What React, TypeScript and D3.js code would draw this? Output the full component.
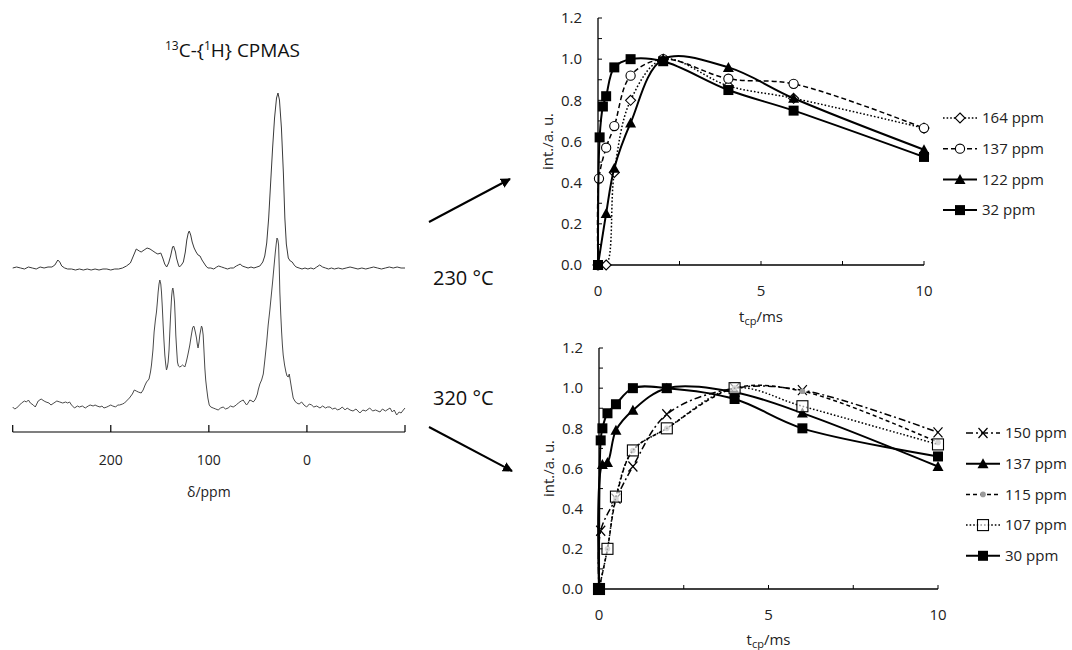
import React from 'react';
import * as d3 from 'd3';

// ---------------- DATA ----------------
// 13C CPMAS spectra, [ppm, intensity (a.u.)]
const spectrum230: [number, number][] = [
  [300, 0], [296, 1], [292, 0], [288, -1], [284, 1], [280, 0], [276, -1], [272, 1], [268, 0], [264, 1], [260, 1],
  [257, 3], [254, 8], [252, 6], [250, 2], [247, 0], [244, -1], [240, -1], [236, -2], [232, -1], [228, -2],
  [224, -1], [220, -2], [216, -1], [212, -2], [208, -1], [204, -1], [200, -2], [196, -1], [192, -1], [188, 0],
  [184, 2], [180, 5], [177, 12], [174, 19], [171, 17], [169, 16], [166, 18], [163, 20], [160, 19], [157, 17],
  [154, 15], [152, 14], [149, 15], [147, 10], [145, 4], [143, 1], [141, 5], [139, 12], [137, 21], [136, 22],
  [134, 16], [133, 10], [131, 3], [130, 1], [128, 3], [126, 6], [124, 16], [122.5, 28], [121, 35], [120, 37],
  [118.5, 33], [117, 26], [115, 20], [113, 16], [111, 13], [109, 12], [107, 8], [105, 5], [103, 2], [101, 0],
  [98, 0], [95, -1], [92, 1], [90, 2], [87, 1], [84, 0], [81, -1], [78, 0], [75, 0], [72, 2], [70, 3], [68, 4],
  [66, 2], [63, 1], [60, 0], [57, 1], [54, 0], [51, 1], [48, 2], [45, 6], [43, 12], [41, 25], [39, 50], [37, 85],
  [35, 120], [33, 150], [31, 170], [29.5, 175], [28, 168], [26, 140], [24, 95], [22.5, 50], [21, 24], [19, 10],
  [17, 7], [15, 6], [13, 3], [11, 1], [8, 0], [5, -1], [2, 0], [-1, -1], [-4, 0], [-7, -1], [-10, 1], [-13, 3],
  [-16, 1], [-19, 0], [-22, -1], [-25, 0], [-28, -1], [-32, 0], [-36, -1], [-40, 0], [-44, 1], [-48, 0],
  [-52, -1], [-56, 0], [-60, -1], [-64, 0], [-68, 1], [-72, 0], [-76, -1], [-80, 0], [-84, 1], [-88, 0],
  [-92, 1], [-96, 0], [-100, 0],
];

const spectrum320: [number, number][] = [
  [300, 3], [298, 1], [296, 2], [293, 5], [291, 7], [288, 9], [286, 8], [284, 10], [282, 7], [279, 5], [277, 3],
  [274, 9], [271, 11], [268, 9], [266, 8], [263, 7], [261, 5], [258, 7], [255, 9], [252, 8], [249, 7], [246, 8],
  [244, 7], [242, 8], [240, 5], [237, 2], [234, 4], [232, 3], [229, 4], [226, 2], [223, 4], [221, 5], [218, 4],
  [216, 5], [214, 4], [211, 3], [209, 4], [207, 2], [204, 3], [202, 4], [200, 5], [198, 4], [195, 3], [193, 5],
  [191, 5], [188, 6], [186, 7], [184, 9], [181, 12], [178, 16], [176, 20], [174, 19], [172, 18], [169, 17],
  [167, 20], [165, 25], [163.5, 28], [161, 31], [159.5, 38], [158.5, 45], [157, 60], [155.8, 78], [154.5, 90],
  [153.4, 98], [152.5, 108], [151.7, 118], [150.8, 126], [150, 130], [149, 126], [148.3, 118], [147.5, 104],
  [146.6, 85], [145.8, 70], [144.9, 55], [144, 46], [143.2, 40], [142.3, 43], [141.5, 48], [140.6, 60],
  [139.8, 78], [139, 95], [138, 113], [137.3, 120], [136.7, 122], [136, 118], [135, 108], [134.3, 92],
  [133.7, 75], [132.8, 60], [132, 48], [131, 44], [129.6, 43], [128, 44], [126.9, 45], [125.5, 44], [124.5, 43],
  [123.3, 47], [122.1, 52], [120.8, 58], [119.4, 65], [118, 74], [116.6, 82], [115.5, 84], [115, 83],
  [113.8, 78], [112.6, 72], [111.8, 66], [111, 62], [110, 68], [109.2, 75], [108.3, 80], [107.5, 84],
  [106.7, 82], [105.8, 75], [105, 60], [104.1, 42], [103.2, 30], [102.3, 22], [101, 12], [99.6, 5], [98, 3],
  [95.6, 2], [93, 1], [90.5, 0], [88, 2], [85.4, 3], [83, 1], [80.3, 2], [78, 4], [75.2, 3], [72, 5], [70, 7],
  [67, 9], [65, 10], [63, 7], [61.5, 5], [60, 7], [58.2, 10], [56, 9], [54.8, 8], [53, 10], [52, 12],
  [50.5, 16], [49.7, 20], [48, 26], [46.2, 30], [44.5, 36], [42.9, 50], [41, 68], [39.5, 85], [37.8, 100],
  [36, 118], [35, 128], [33.7, 142], [32.3, 157], [31.2, 167], [30.5, 172], [29.6, 170], [28.9, 165],
  [28.2, 142], [27.6, 118], [26.7, 96], [25.8, 78], [25, 65], [24.2, 55], [22.8, 45], [21.4, 38], [20.3, 34],
  [19.1, 33], [18, 36], [16.7, 28], [15.4, 20], [14, 12], [12.3, 9], [10.5, 7], [8, 6], [5.4, 8], [3, 5],
  [0.3, 3], [-2.5, 6], [-4.8, 5], [-7, 3], [-10, 4], [-13.3, 2], [-16, 4], [-19, 2], [-21, 3], [-23.5, 3],
  [-26, 1], [-29, 2], [-31, 0], [-33.7, 1], [-36, 3], [-39, 0], [-41, 2], [-44, 0], [-47, -1], [-50, 1],
  [-54, -3], [-57, 0], [-60, -1], [-64, 2], [-67, -1], [-70, 0], [-74.5, -2], [-77, 1], [-80, -1],
  [-84.7, 2], [-87, -2], [-89, 0], [-91.5, -5], [-94, -2], [-96, -3], [-98.3, 0], [-100, 2],
];
const ppmTicks = [300, 200, 100, 0, -100];
const ppmLabels = [200, 100, 0];

// CP build-up curves, 230 °C
const t230_164 = [0, 0.25, 0.5, 1, 2, 4, 6, 10];
const i230_164 = [0, 0, 0.45, 0.8, 1.0, 0.87, 0.81, 0.665];
const t230_137 = [0, 0.03, 0.25, 0.5, 1, 2, 4, 6, 10];
const i230_137 = [0, 0.42, 0.57, 0.675, 0.92, 1.0, 0.905, 0.88, 0.665];
const t230_122 = [0, 0.25, 0.5, 1, 2, 4, 6, 10];
const i230_122 = [0, 0.25, 0.47, 0.69, 1.0, 0.96, 0.81, 0.56];
const t230_32 = [0, 0.05, 0.15, 0.25, 0.5, 1, 2, 4, 6, 10];
const i230_32 = [0, 0.62, 0.77, 0.82, 0.96, 1.0, 0.99, 0.85, 0.75, 0.525];

// CP build-up curves, 320 °C
const t320_150 = [0, 0.05, 0.5, 1, 2, 4, 6, 10];
const i320_150 = [0, 0.29, 0.45, 0.61, 0.87, 1.0, 0.99, 0.78];
const t320_137 = [0, 0.1, 0.25, 0.5, 1, 2, 4, 6, 10];
const i320_137 = [0, 0.62, 0.63, 0.79, 0.89, 1.0, 0.98, 0.876, 0.61];
const t320_115 = [0, 0.25, 0.5, 1, 2, 4, 6, 10];
const i320_115 = [0, 0.2, 0.45, 0.69, 0.8, 1.0, 0.985, 0.73];
const t320_107 = [0, 0.25, 0.5, 1, 2, 4, 6, 10];
const i320_107 = [0, 0.2, 0.46, 0.69, 0.8, 1.0, 0.91, 0.72];
const t320_30 = [0, 0.05, 0.1, 0.25, 0.5, 1, 2, 4, 6, 10];
const i320_30 = [0, 0.74, 0.8, 0.875, 0.92, 1.0, 1.0, 0.946, 0.8, 0.66];

const yTicks = [0, 0.2, 0.4, 0.6, 0.8, 1.0, 1.2];
const yMinor = [0.1, 0.3, 0.5, 0.7, 0.9, 1.1];
const xTicks = [2.5, 5, 7.5, 10];
const xLabels = [0, 5, 10];

// ---------------- STYLE ----------------
const FONT = "'Open Sans', 'Liberation Sans', sans-serif";

type Series = { name: string; x: number[]; y: number[]; dash: string; width: number; marker: string };

const series230: Series[] = [
  { name: '164 ppm', x: t230_164, y: i230_164, dash: '1.6,2', width: 1.5, marker: 'diamond' },
  { name: '137 ppm', x: t230_137, y: i230_137, dash: '5,3', width: 1.5, marker: 'circle' },
  { name: '122 ppm', x: t230_122, y: i230_122, dash: '', width: 2, marker: 'triangle' },
  { name: '32 ppm', x: t230_32, y: i230_32, dash: '', width: 2, marker: 'square' },
];
const series320: Series[] = [
  { name: '150 ppm', x: t320_150, y: i320_150, dash: '7,3,2,3', width: 1.5, marker: 'x' },
  { name: '137 ppm', x: t320_137, y: i320_137, dash: '', width: 2, marker: 'triangle' },
  { name: '115 ppm', x: t320_115, y: i320_115, dash: '4,3', width: 1.5, marker: 'dot' },
  { name: '107 ppm', x: t320_107, y: i320_107, dash: '1.6,2', width: 1.5, marker: 'opensquare' },
  { name: '30 ppm', x: t320_30, y: i320_30, dash: '', width: 2, marker: 'square' },
];

function Marker({ type, cx, cy }: { type: string; cx: number; cy: number }) {
  switch (type) {
    case 'diamond':
      return <path d={`M${cx},${cy - 5}L${cx + 5},${cy}L${cx},${cy + 5}L${cx - 5},${cy}Z`} fill="#fff" stroke="#000" strokeWidth={1.1} />;
    case 'circle':
      return <circle cx={cx} cy={cy} r={4.6} fill="#fff" stroke="#000" strokeWidth={1.1} />;
    case 'triangle':
      return <path d={`M${cx},${cy - 5.5}L${cx + 5.5},${cy + 4.5}L${cx - 5.5},${cy + 4.5}Z`} fill="#000" />;
    case 'square':
      return <rect x={cx - 5} y={cy - 5} width={10} height={10} fill="#000" />;
    case 'opensquare':
      return <rect x={cx - 5.5} y={cy - 5.5} width={11} height={11} fill="#fff" fillOpacity={0.6} stroke="#000" strokeWidth={1.1} />;
    case 'dot':
      return <circle cx={cx} cy={cy} r={2.8} fill="#9a9a9a" />;
    case 'x':
      return (
        <path d={`M${cx - 4.5},${cy - 5}L${cx + 4.5},${cy + 5}M${cx + 4.5},${cy - 5}L${cx - 4.5},${cy + 5}`} stroke="#000" strokeWidth={1.2} fill="none" />
      );
    default:
      return null;
  }
}

type ChartProps = {
  series: Series[];
  xr: [number, number];
  yr: [number, number];
  legX: number;
  legY: number;
  legDy: number;
  xTitleY: number;
  xTickY: number;
};

function BuildUpChart({ series, xr, yr, legX, legY, legDy, xTitleY, xTickY }: ChartProps) {
  const x = d3.scaleLinear().domain([0, 10]).range(xr);
  const y = d3.scaleLinear().domain([0, 1.2]).range(yr);
  const line = d3
    .line<[number, number]>()
    .x((d) => x(d[0]))
    .y((d) => y(d[1]))
    .curve(d3.curveCatmullRom.alpha(0.5));
  const x0 = x(0);
  const y0 = y(0);
  return (
    <g fontFamily={FONT}>
      {/* axes */}
      <line x1={x0} x2={x0} y1={y(1.2)} y2={y0} stroke="#000" strokeWidth={1.3} />
      <line x1={x0} x2={x(10)} y1={y0} y2={y0} stroke="#000" strokeWidth={1.3} />
      {yTicks.concat(yMinor).map((t) => (
        <line key={'yt' + t} x1={x0} x2={x0 + 4} y1={y(t)} y2={y(t)} stroke="#000" strokeWidth={1} />
      ))}
      {xTicks.map((t) => (
        <line key={'xt' + t} x1={x(t)} x2={x(t)} y1={y0} y2={y0 - 4} stroke="#000" strokeWidth={1} />
      ))}
      {yTicks.map((t) => (
        <text key={'yl' + t} x={x0 - 16} y={y(t)} dy="0.35em" textAnchor="end" fontSize={15} fill="#222">
          {d3.format('.1f')(t)}
        </text>
      ))}
      {xLabels.map((t) => (
        <text key={'xl' + t} x={x(t)} y={xTickY} textAnchor="middle" fontSize={15} fill="#222">
          {t}
        </text>
      ))}
      <text x={(xr[0] + xr[1]) / 2} y={xTitleY} textAnchor="middle" fontSize={15} fill="#222">
        t<tspan fontSize={11} dy={3}>cp</tspan>
        <tspan dy={-3}>/ms</tspan>
      </text>
      <text
        transform={`translate(${x0 - 45},${(yr[0] + yr[1]) / 2}) rotate(-90)`}
        textAnchor="middle"
        fontSize={15}
        fill="#222"
      >
        int./a. u.
      </text>
      {/* series */}
      {series.map((s) => {
        const pts = s.x.map((v, i) => [v, s.y[i]] as [number, number]);
        return (
          <g key={s.name}>
            <path d={line(pts) || ''} fill="none" stroke="#000" strokeWidth={s.width} strokeDasharray={s.dash || undefined} />
            {pts.map((p, i) => (
              <Marker key={i} type={s.marker} cx={x(p[0])} cy={y(p[1])} />
            ))}
          </g>
        );
      })}
      {/* legend */}
      {series.map((s, i) => {
        const ly = legY + i * legDy;
        return (
          <g key={'leg' + s.name}>
            <line x1={legX - 17} x2={legX + 17} y1={ly} y2={ly} stroke="#000" strokeWidth={s.width} strokeDasharray={s.dash || undefined} />
            <Marker type={s.marker} cx={legX} cy={ly} />
            <text x={legX + 22} y={ly} dy="0.35em" fontSize={15} fill="#222">
              {s.name}
            </text>
          </g>
        );
      })}
    </g>
  );
}

function Spectra() {
  const x = d3.scaleLinear().domain([300, -100]).range([12.7, 405]);
  const yTop = d3.scaleLinear().domain([0, 175]).range([268, 93]);
  const yBot = d3.scaleLinear().domain([0, 172]).range([410, 238]);
  const lTop = d3.line<[number, number]>().x((d) => x(d[0])).y((d) => yTop(d[1]));
  const lBot = d3.line<[number, number]>().x((d) => x(d[0])).y((d) => yBot(d[1]));
  const axisY = 432;
  return (
    <g fontFamily={FONT}>
      <path d={lTop(spectrum230) || ''} fill="none" stroke="#3a3a3a" strokeWidth={1} />
      <path d={lBot(spectrum320) || ''} fill="none" stroke="#4a4a4a" strokeWidth={1} />
      <line x1={x(300)} x2={x(-100)} y1={axisY} y2={axisY} stroke="#000" strokeWidth={1.2} />
      {ppmTicks.map((t) => (
        <line key={t} x1={x(t)} x2={x(t)} y1={axisY} y2={axisY - 7} stroke="#000" strokeWidth={1.2} />
      ))}
      {ppmLabels.map((t) => (
        <text key={'l' + t} x={x(t)} y={465} textAnchor="middle" fontSize={14} fill="#222">
          {t}
        </text>
      ))}
      <text x={x(100)} y={497} textAnchor="middle" fontSize={14} fill="#222">
        δ/ppm
      </text>
      <text x={165} y={57} fontSize={19} fill="#111">
        <tspan fontSize={12} dy={-7}>13</tspan>
        <tspan dy={7}>C-{'{'}</tspan>
        <tspan fontSize={12} dy={-7}>1</tspan>
        <tspan dy={7}>H{'}'} CPMAS</tspan>
      </text>
    </g>
  );
}

export default function App() {
  return (
    <svg
      width={1072}
      height={650}
      viewBox="0 0 1072 650"
      style={{ position: 'absolute', left: 0, top: 0, background: '#fff' }}
    >
      <defs>
        <marker id="arrow" viewBox="0 0 10 10" refX="9" refY="5" markerWidth="5" markerHeight="5" orient="auto">
          <path d="M0,0L10,5L0,10Z" fill="#000" />
        </marker>
      </defs>
      <rect width={1072} height={650} fill="#fff" />
      <Spectra />
      <line x1={429} y1={222} x2={510} y2={179} stroke="#000" strokeWidth={2} markerEnd="url(#arrow)" />
      <line x1={429} y1={427} x2={512} y2={471} stroke="#000" strokeWidth={2} markerEnd="url(#arrow)" />
      <text x={433} y={285} fontSize={20} fontFamily={FONT} fill="#111">230 °C</text>
      <text x={433} y={405} fontSize={20} fontFamily={FONT} fill="#111">320 °C</text>
      <BuildUpChart
        series={series230}
        xr={[598, 924]}
        yr={[265, 18]}
        legX={960}
        legY={118}
        legDy={30.7}
        xTitleY={322}
        xTickY={296}
      />
      <BuildUpChart
        series={series320}
        xr={[599, 938]}
        yr={[589, 348]}
        legX={983}
        legY={433}
        legDy={30.7}
        xTitleY={645}
        xTickY={620}
      />
    </svg>
  );
}
